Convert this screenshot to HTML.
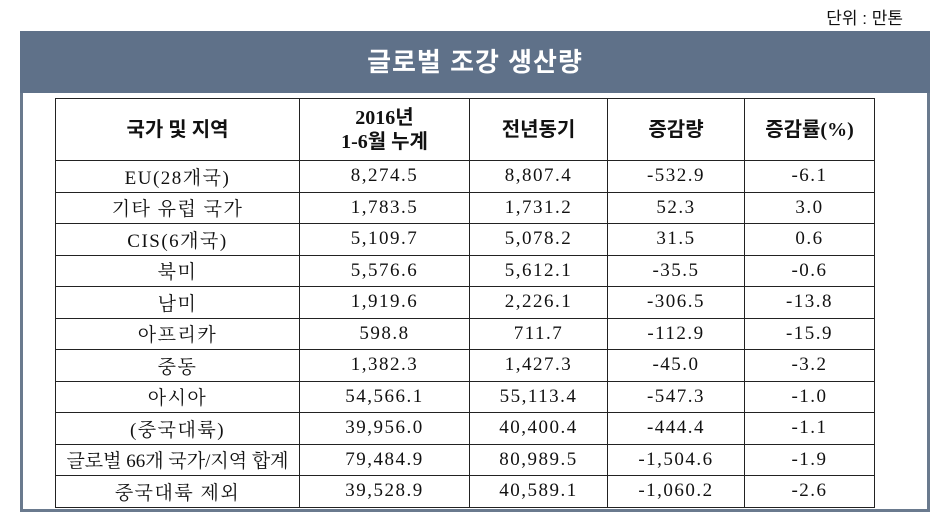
<!DOCTYPE html>
<html><head><meta charset="utf-8"><style>
body{margin:0;width:941px;height:532px;background:#fff;position:relative;overflow:hidden;font-family:"Liberation Serif","Noto Serif CJK SC",serif;}
.unit{position:absolute;right:38px;top:4px;font-size:17px;font-family:"Liberation Sans","Noto Sans CJK KR",sans-serif;color:#111;}
.frame{position:absolute;left:20px;top:31px;width:904px;height:478px;border:3px solid #6a7a8e;border-top:none;}
.band{position:absolute;left:20px;top:31px;width:910px;height:62px;background:#5f7189;color:#fff;font:bold 26px "Liberation Sans","Noto Sans CJK KR",sans-serif;text-align:center;line-height:62px;letter-spacing:1px;}
table{position:absolute;left:55px;top:98px;border-collapse:collapse;}
td{border:1.5px solid #222;text-align:center;font-size:19px;height:30.5px;padding:0;letter-spacing:1.5px;color:#111;}
tr.h td{height:61px;font-weight:bold;font-size:20px;font-family:"Liberation Serif","Noto Sans CJK KR",serif;line-height:24px;letter-spacing:0;}
</style></head><body>
<div class="unit">단위 : 만톤</div>
<div class="frame"></div>
<div class="band">글로벌 조강 생산량</div>
<table>
<colgroup><col style="width:244px"><col style="width:170px"><col style="width:138px"><col style="width:137px"><col style="width:130px"></colgroup>
<tr class="h"><td>국가 및 지역</td><td>2016년<br>1-6월 누계</td><td>전년동기</td><td>증감량</td><td>증감률(%)</td></tr>
<tr><td>EU(28개국)</td><td>8,274.5</td><td>8,807.4</td><td>-532.9</td><td>-6.1</td></tr>
<tr><td>기타 유럽 국가</td><td>1,783.5</td><td>1,731.2</td><td>52.3</td><td>3.0</td></tr>
<tr><td>CIS(6개국)</td><td>5,109.7</td><td>5,078.2</td><td>31.5</td><td>0.6</td></tr>
<tr><td>북미</td><td>5,576.6</td><td>5,612.1</td><td>-35.5</td><td>-0.6</td></tr>
<tr><td>남미</td><td>1,919.6</td><td>2,226.1</td><td>-306.5</td><td>-13.8</td></tr>
<tr><td>아프리카</td><td>598.8</td><td>711.7</td><td>-112.9</td><td>-15.9</td></tr>
<tr><td>중동</td><td>1,382.3</td><td>1,427.3</td><td>-45.0</td><td>-3.2</td></tr>
<tr><td>아시아</td><td>54,566.1</td><td>55,113.4</td><td>-547.3</td><td>-1.0</td></tr>
<tr><td>(중국대륙)</td><td>39,956.0</td><td>40,400.4</td><td>-444.4</td><td>-1.1</td></tr>
<tr><td style="letter-spacing:0">글로벌 66개 국가/지역 합계</td><td>79,484.9</td><td>80,989.5</td><td>-1,504.6</td><td>-1.9</td></tr>
<tr><td>중국대륙 제외</td><td>39,528.9</td><td>40,589.1</td><td>-1,060.2</td><td>-2.6</td></tr>
</table>
</body></html>
